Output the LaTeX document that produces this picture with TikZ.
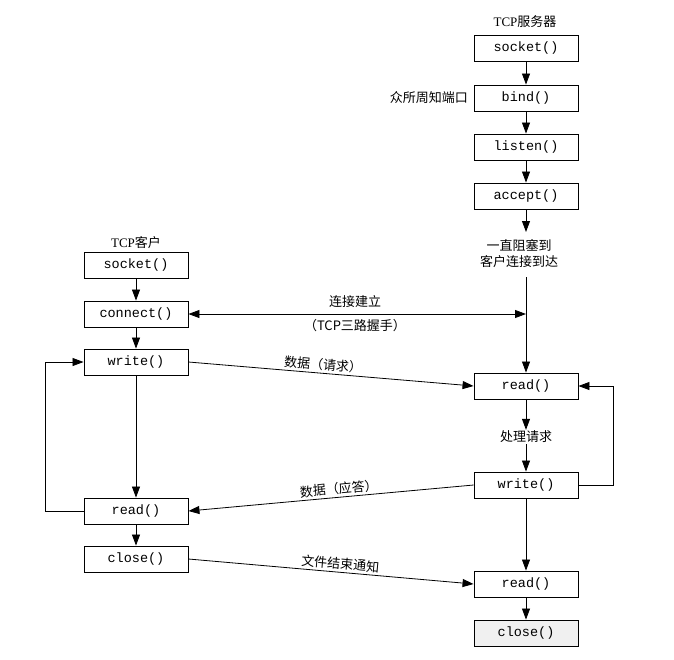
\documentclass[tikz,border=0pt]{standalone}
\usepackage{fontspec}
\setmainfont{Liberation Serif}
\setmonofont{Liberation Mono}
\newfontfamily\cjk{Noto Sans CJK SC}
\usetikzlibrary{arrows.meta}
\begin{document}
\begin{tikzpicture}[x=1pt,y=-1pt,
  fnbox/.style={draw,line width=0.9pt,minimum width=104pt,minimum height=26pt,inner sep=0pt,font=\fontsize{13.5}{15}\selectfont\ttfamily},
  lbl/.style={font=\fontsize{13}{16}\selectfont\cjk,inner sep=1pt},
  tip/.style={-{Triangle[length=11pt,width=8pt]}},
  conn/.style={line width=0.8pt,tip},
  plain/.style={line width=0.8pt}]
\useasboundingbox (0,0) rectangle (674,659);
% server column
\node[font=\fontsize{13}{16}\selectfont] (st) at (525,22) {TCP{\cjk 服务器}};
\node[fnbox] (ssock) at (526,48) {socket()};
\node[fnbox] (sbind) at (526,98) {bind()};
\node[lbl,anchor=east] (wk) at (469,98) {众所周知端口};
\node[fnbox] (slisten) at (526,147) {listen()};
\node[fnbox] (saccept) at (526,196) {accept()};
\coordinate (sacc) at (526,232);
\node[lbl,align=center] (blk) at (519,254) {一直阻塞到\\客户连接到达};
\coordinate (blkb) at (526,277);
\coordinate (cj) at (526,314);
\node[fnbox] (sread1) at (526,386) {read()};
\node[lbl] (proc) at (526,437) {处理请求};
\node[fnbox] (swrite) at (526,485) {write()};
\node[fnbox] (sread2) at (526,584) {read()};
\node[fnbox,fill=gray!12] (sclose) at (526,633) {close()};
\coordinate (sloop) at (613,485);
% client column
\node[font=\fontsize{13}{16}\selectfont] (ct) at (136,243) {TCP{\cjk 客户}};
\node[fnbox] (csock) at (136,265) {socket()};
\node[fnbox] (cconn) at (136,314) {connect()};
\node[fnbox] (cwrite) at (136,362) {write()};
\node[fnbox] (cread) at (136,511) {read()};
\node[fnbox] (cclose) at (136,559) {close()};
\coordinate (cloop) at (45,511);
% server arrows
\draw[conn] (ssock) -- (sbind);
\draw[conn] (sbind) -- (slisten);
\draw[conn] (slisten) -- (saccept);
\draw[conn] (saccept) -- (sacc);
\draw[conn] (blkb) -- (sread1);
\draw[conn] (sread1) -- (proc);
\draw[conn] (proc) -- (swrite);
\draw[conn] (swrite) -- (sread2);
\draw[conn] (sread2) -- (sclose);
\draw[conn] (swrite.east) -- (sloop) |- (sread1.east);
% client arrows
\draw[conn] (csock) -- (cconn);
\draw[conn] (cconn) -- (cwrite);
\draw[conn] (cwrite) -- (cread);
\draw[conn] (cread) -- (cclose);
\draw[conn] (cread.west) -- (cloop) |- (cwrite.west);
% exchanges
\draw[line width=0.8pt,{Triangle[length=11pt,width=8pt]}-{Triangle[length=11pt,width=8pt]}] (cconn.east) -- (cj);
\node[lbl] (l1) at (355,302) {连接建立};
\node[lbl] (l2) at (355,326) {（TCP三路握手）};
\draw[conn] (cwrite.east) -- node[lbl,pos=0.47,above=1pt,sloped] {数据（请求）} (sread1.west);
\draw[conn] (swrite.west) -- node[lbl,pos=0.47,above=1pt,sloped] {数据（应答）} (cread.east);
\draw[conn] (cclose.east) -- node[lbl,pos=0.53,above=1pt,sloped] {文件结束通知} (sread2.west);
\end{tikzpicture}
\end{document}
